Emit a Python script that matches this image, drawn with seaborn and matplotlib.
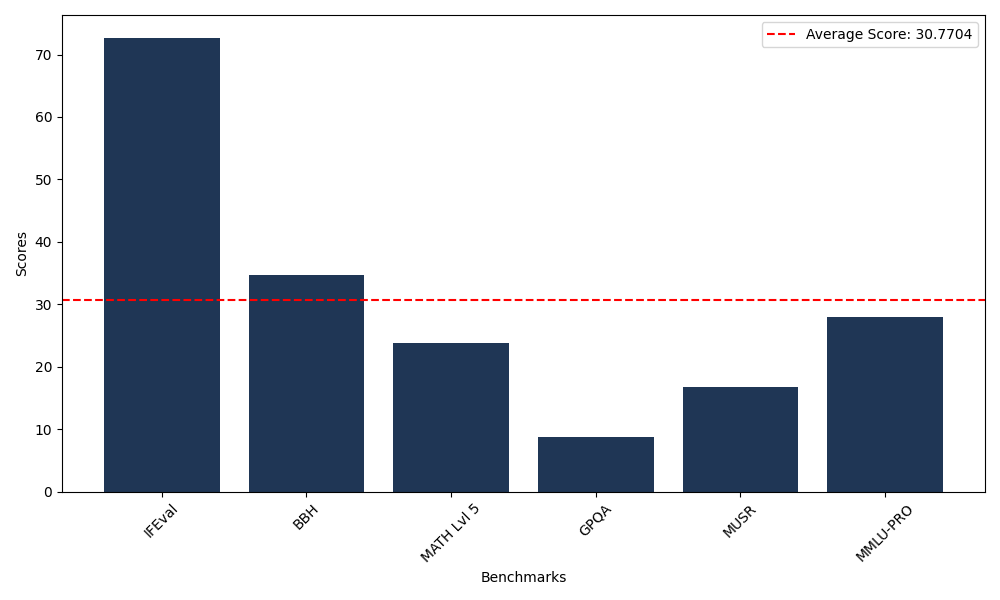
import matplotlib
matplotlib.use("Agg")
import pandas as pd
import seaborn as sns
from matplotlib import pyplot as plt

benchmarks = ["IFEval", "BBH", "MATH Lvl 5", "GPQA", "MUSR", "MMLU-PRO"]
scores = [72.7, 34.7, 23.8, 8.75, 16.75, 27.92]
average_score = 30.7704

df = pd.DataFrame({"Benchmarks": benchmarks, "Scores": scores})

fig, ax = plt.subplots(figsize=(10, 6), dpi=100)
sns.barplot(data=df, x="Benchmarks", y="Scores", color="#1f3655",
            saturation=1, width=0.8, ax=ax)
ax.axhline(average_score, color="red", linestyle="--",
           label=f"Average Score: {average_score}")

# match matplotlib's default bar margins
n = len(benchmarks)
pad = 0.05 * (n - 1 + 0.8)
ax.set_xlim(-0.4 - pad, n - 1 + 0.4 + pad)

ax.set_xlabel("Benchmarks")
ax.set_ylabel("Scores")
plt.xticks(rotation=45)
ax.legend(loc="upper right")
plt.tight_layout()
plt.savefig("out.png")
